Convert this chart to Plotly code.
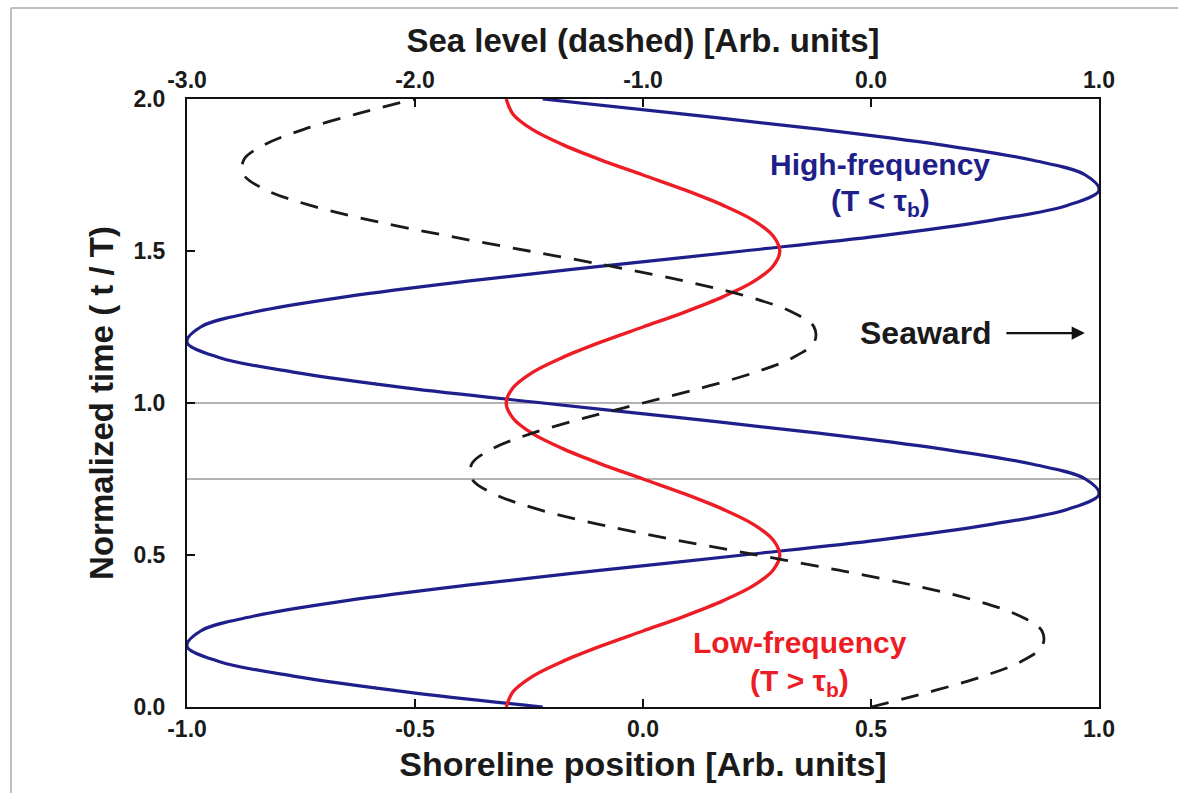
import plotly.graph_objects as go

# ---------------- data ----------------
time_t = [0.00, 0.05, 0.10, 0.15, 0.20, 0.25, 0.30, 0.35, 0.40, 0.45,
          0.50, 0.55, 0.60, 0.65, 0.70, 0.75, 0.80, 0.85, 0.90, 0.95,
          1.00, 1.05, 1.10, 1.15, 1.20, 1.25, 1.30, 1.35, 1.40, 1.45,
          1.50, 1.55, 1.60, 1.65, 1.70, 1.75, 1.80, 1.85, 1.90, 1.95,
          2.00]

# high-frequency shoreline (bottom axis)
shoreline_high = [-0.22, -0.52, -0.76, -0.93, -1.00, -0.97, -0.85, -0.65, -0.39, -0.09,
                  0.22, 0.52, 0.76, 0.93, 1.00, 0.97, 0.85, 0.65, 0.39, 0.09,
                  -0.22, -0.52, -0.76, -0.93, -1.00, -0.97, -0.85, -0.65, -0.39, -0.09,
                  0.22, 0.52, 0.76, 0.93, 1.00, 0.97, 0.85, 0.65, 0.39, 0.09,
                  -0.22]

# low-frequency shoreline (bottom axis)
shoreline_low = [-0.300, -0.285, -0.243, -0.176, -0.093, 0.000, 0.093, 0.176, 0.243, 0.285,
                 0.300, 0.285, 0.243, 0.176, 0.093, 0.000, -0.093, -0.176, -0.243, -0.285,
                 -0.300, -0.285, -0.243, -0.176, -0.093, 0.000, 0.093, 0.176, 0.243, 0.285,
                 0.300, 0.285, 0.243, 0.176, 0.093, 0.000, -0.093, -0.176, -0.243, -0.285,
                 -0.300]

# sea level (top axis, dashed)
sea_level = [0.000, 0.259, 0.488, 0.659, 0.751, 0.750, 0.651, 0.459, 0.188, -0.141,
             -0.500, -0.859, -1.188, -1.459, -1.651, -1.750, -1.751, -1.659, -1.488, -1.259,
             -1.000, -0.741, -0.512, -0.341, -0.249, -0.250, -0.349, -0.541, -0.812, -1.141,
             -1.500, -1.859, -2.188, -2.459, -2.651, -2.750, -2.751, -2.659, -2.488, -2.259,
             -2.000]

x_ticks = [-1.0, -0.5, 0.0, 0.5, 1.0]
x_tick_labels = ["-1.0", "-0.5", "0.0", "0.5", "1.0"]
x2_ticks = [-3.0, -2.0, -1.0, 0.0, 1.0]
x2_tick_labels = ["-3.0", "-2.0", "-1.0", "0.0", "1.0"]
y_ticks = [0.0, 0.5, 1.0, 1.5, 2.0]
y_tick_labels = ["0.0", "0.5", "1.0", "1.5", "2.0"]
ref_times = [0.75, 1.0]

FONT = "Liberation Sans, Arial, Helvetica, sans-serif"
NAVY = "#1f1f8c"
RED = "#ee1c25"
OUTSIDE = "#dfe3ea"

fig = go.Figure()

fig.add_trace(go.Scatter(
    x=sea_level, y=time_t, xaxis="x2", yaxis="y", mode="lines",
    line=dict(color="#1a1a1a", width=2.8, dash="18px,13px", shape="spline"),
    showlegend=False, hoverinfo="skip"))
fig.add_trace(go.Scatter(
    x=shoreline_high, y=time_t, mode="lines",
    line=dict(color=NAVY, width=3.2, shape="spline"),
    showlegend=False, hoverinfo="skip"))
fig.add_trace(go.Scatter(
    x=shoreline_low, y=time_t, mode="lines",
    line=dict(color=RED, width=3.4, shape="spline"),
    showlegend=False, hoverinfo="skip"))

for v in ref_times:
    fig.add_hline(y=v, line_color="#9a9a9a", line_width=1.3, layer="below")

axis_common = dict(
    ticks="inside", ticklen=8, tickwidth=2, tickcolor="#111",
    showline=True, linewidth=2, linecolor="#111",
    showgrid=False, zeroline=False,
    tickfont=dict(family=FONT, size=23, color="#1a1a1a", weight="bold"),
)

fig.update_layout(
    width=1178, height=793,
    margin=dict(l=187, r=79, t=99, b=86, autoexpand=False),
    paper_bgcolor="white",
    plot_bgcolor="white",
    font=dict(family=FONT, color="#1a1a1a"),
    xaxis=dict(
        range=[-1, 1], tickvals=x_ticks, ticktext=x_tick_labels,
        title=dict(text="<b>Shoreline position [Arb. units]</b>",
                   font=dict(family=FONT, size=34, color="#1a1a1a"), standoff=12),
        **axis_common),
    xaxis2=dict(
        range=[-3, 1], tickvals=x2_ticks, ticktext=x2_tick_labels,
        overlaying="x", side="top", anchor="y",
        title=dict(text="<b>Sea level (dashed) [Arb. units]</b>",
                   font=dict(family=FONT, size=33, color="#1a1a1a"), standoff=4),
        **axis_common),
    yaxis=dict(
        range=[0, 2], tickvals=y_ticks, ticktext=y_tick_labels, mirror=True,
        ticklabelstandoff=15,
        title=dict(text="<b>Normalized time ( t / T)</b>",
                   font=dict(family=FONT, size=33, color="#1a1a1a"), standoff=10),
        **axis_common),
    shapes=[
        # outside strip on the left and on top
        dict(type="rect", xref="paper", yref="paper",
             x0=-0.3, x1=-0.193, y0=-0.3, y1=1.3,
             fillcolor=OUTSIDE, line=dict(width=0), layer="below"),
        dict(type="rect", xref="paper", yref="paper",
             x0=-0.3, x1=1.3, y0=1.1497, y1=1.3,
             fillcolor=OUTSIDE, line=dict(width=0), layer="below"),
        # panel border lines
        dict(type="line", xref="paper", yref="paper",
             x0=-0.193, x1=-0.193, y0=-0.3, y1=1.1497,
             line=dict(color="#a9a9a9", width=1.5), layer="below"),
        dict(type="line", xref="paper", yref="paper",
             x0=-0.193, x1=1.3, y0=1.1497, y1=1.1497,
             line=dict(color="#a9a9a9", width=1.5), layer="below"),
    ],
)

ann_font = dict(family=FONT, size=30)
fig.add_annotation(x=0.52, y=1.783, text="<b>High-frequency</b>", showarrow=False,
                   font=dict(**ann_font, color=NAVY))
fig.add_annotation(x=0.52, y=1.658, text="<b>(T &lt; τ<sub>b</sub>)</b>", showarrow=False,
                   font=dict(**ann_font, color=NAVY))
fig.add_annotation(x=0.344, y=0.212, text="<b>Low-frequency</b>", showarrow=False,
                   font=dict(**ann_font, color=RED))
fig.add_annotation(x=0.344, y=0.079, text="<b>(T &gt; τ<sub>b</sub>)</b>", showarrow=False,
                   font=dict(**ann_font, color=RED))
fig.add_annotation(x=0.621, y=1.230, text="<b>Seaward</b>", showarrow=False,
                   font=dict(family=FONT, size=32, color="#1a1a1a"))
fig.add_annotation(x=0.969, y=1.230, ax=-80, ay=0, text="", showarrow=True,
                   arrowhead=2, arrowsize=1.2, arrowwidth=2.2, arrowcolor="#111")

fig.write_html("out.html")
